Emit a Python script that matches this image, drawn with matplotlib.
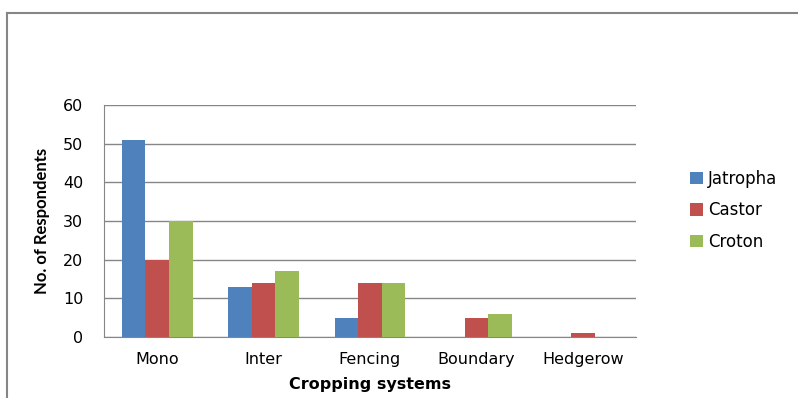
import matplotlib
matplotlib.use("Agg")
import matplotlib.pyplot as plt
from matplotlib.lines import Line2D
from matplotlib.patches import Patch
import numpy as np

categories = ["Mono", "Inter", "Fencing", "Boundary", "Hedgerow"]
jatropha = [51, 13, 5, 0, 0]
castor = [20, 14, 14, 5, 1]
croton = [30, 17, 14, 6, 0]
series = [("Jatropha", jatropha, "#4F81BD"),
          ("Castor", castor, "#C0504D"),
          ("Croton", croton, "#9BBB59")]
yticks = [0, 10, 20, 30, 40, 50, 60]

plt.rcParams['font.family'] = ['DejaVu Sans']

W, H = 798, 398
fig = plt.figure(figsize=(W/100, H/100), dpi=100)
left, right, top, bottom = 104, 636, 105, 337
ax = fig.add_axes([left/W, 1-bottom/H, (right-left)/W, (bottom-top)/H])

x = np.arange(len(categories))
bw = 1/4.5
for i, (name, vals, col) in enumerate(series):
    ax.bar(x + (i-1)*bw, vals, width=bw, color=col, label=name, zorder=3)

ax.set_xlim(-0.5, len(categories)-0.5)
ax.set_ylim(0, 60)
ax.set_yticks(yticks)
ax.set_xticks(x)
ax.set_xticklabels(categories, fontsize=11.5)
ax.tick_params(axis='y', labelsize=11.5, length=0, pad=15)
ax.tick_params(axis='x', length=0, pad=11)
ax.yaxis.grid(True, color='#868686', linewidth=1, zorder=0)
for s in ['top', 'right']:
    ax.spines[s].set_visible(False)
ax.spines['left'].set_color('#868686')
ax.spines['bottom'].set_color('#868686')
ax.set_ylabel("No. of Respondents", fontsize=12, fontweight='bold', labelpad=9,
              family=['Lato', 'DejaVu Sans'])
ax.set_xlabel("Cropping systems", fontsize=11.5, fontweight='bold', labelpad=7)

handles = [Patch(facecolor=c, label=n) for n, _, c in series]
fig.legend(handles=handles, loc='upper left', bbox_to_anchor=(675/W, 1-155/H),
           frameon=False, fontsize=12, handlelength=0.75, handleheight=0.75,
           labelspacing=0.8, handletextpad=0.35)

fig.add_artist(Line2D([7/W, 7/W], [0, 1-13/H], color='#868686', lw=1.5, transform=fig.transFigure))
fig.add_artist(Line2D([7/W, 1], [1-13/H, 1-13/H], color='#868686', lw=1.5, transform=fig.transFigure))

fig.savefig("out.png", dpi=100)
